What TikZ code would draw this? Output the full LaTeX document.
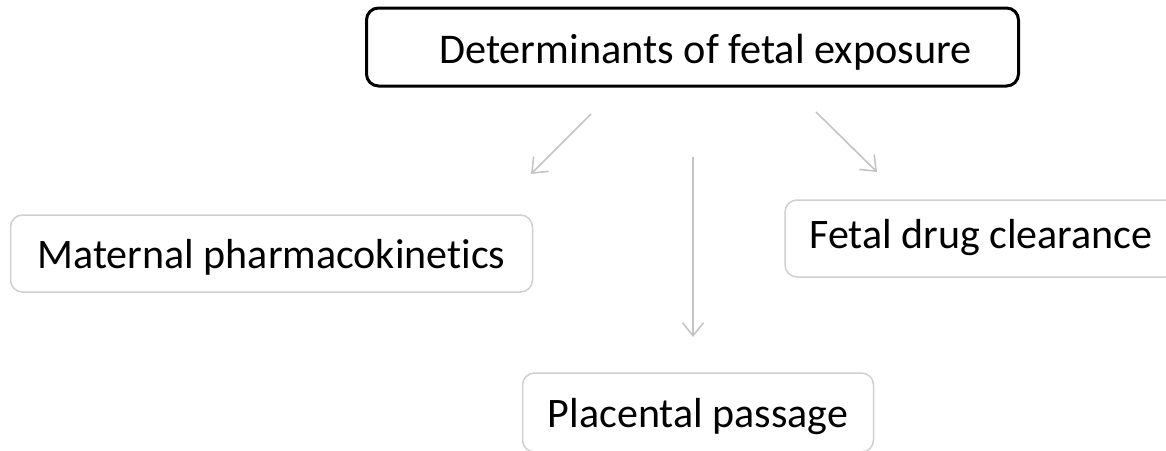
\documentclass[tikz,border=0pt]{standalone}
\usepackage{fontspec}
\setmainfont{Carlito}[Ligatures=NoCommon]
\usetikzlibrary{arrows.meta}
\definecolor{arrgray}{HTML}{C4C4C4}
\definecolor{boxgray}{HTML}{D0D0D0}
\tikzset{
  topbox/.style={draw=black, line width=3pt, rounded corners=12pt, fill=white,
    inner sep=0pt, text depth=0pt, font=\fontsize{42.3}{50}\selectfont},
  subbox/.style={draw=boxgray, line width=1.5pt, rounded corners=12pt, fill=white,
    inner sep=0pt, text depth=0pt, font=\fontsize{42}{50}\selectfont},
  arr/.style={draw=arrgray, line width=1.6pt, -{Straight Barb[length=13pt,width=21pt]}}
}
\begin{document}
\begin{tikzpicture}[x=1pt,y=-1pt]
\useasboundingbox (0,0) rectangle (1166,450);
\clip (0,0) rectangle (1166,450);
\node[topbox, minimum width=652pt, minimum height=78pt, text height=32pt] (top) at (692.5,47) {\hspace*{26pt}Determinants of fetal exposure};
\node[subbox, minimum width=522pt, minimum height=77pt, text height=29pt] (mat) at (271.5,253.5) {Maternal pharmacokinetics};
\node[subbox, minimum width=392pt, minimum height=77pt, text height=19pt] (fet) at (981,238.5) {Fetal drug clearance};
\node[subbox, minimum width=351pt, minimum height=79pt, text height=29pt] (pla) at (698,412.5) {Placental passage};
\coordinate (a1s) at (591,114);
\coordinate (a1e) at (531,174);
\coordinate (a2s) at (693,157);
\coordinate (a2e) at (693,337);
\coordinate (a3s) at (816,112);
\coordinate (a3e) at (877,172);
\draw[arr] (a1s) -- (a1e);
\draw[arr] (a2s) -- (a2e);
\draw[arr] (a3s) -- (a3e);
\end{tikzpicture}
\end{document}
